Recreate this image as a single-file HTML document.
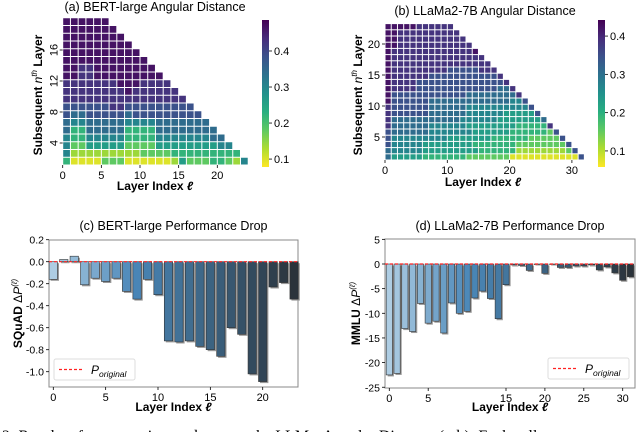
<!DOCTYPE html>
<html><head><meta charset="utf-8"><style>
html,body{margin:0;padding:0;background:#fff}
svg{display:block;font-family:"Liberation Sans",sans-serif}
</style></head><body>
<svg id="fig" width="640" height="432" viewBox="0 0 640 432" xmlns="http://www.w3.org/2000/svg">
<defs>
<linearGradient id="vir" x1="0" y1="1" x2="0" y2="0">
<stop offset="0" stop-color="#fde725"/><stop offset="0.125" stop-color="#addc30"/><stop offset="0.25" stop-color="#5ec962"/><stop offset="0.375" stop-color="#28ae80"/><stop offset="0.5" stop-color="#21918c"/><stop offset="0.625" stop-color="#2c728e"/><stop offset="0.75" stop-color="#3b528b"/><stop offset="0.875" stop-color="#472d7b"/><stop offset="1" stop-color="#440154"/>
</linearGradient>
</defs>
<g id="ga"></g>
<g id="gb"></g>
<g id="gc"></g>
<g id="gd"></g>
<text x="2" y="441" font-family="Liberation Serif" font-size="16">2:  Results of our experiments between the LLMs. Angular Distance (a-b): Each cell</text>
</svg>
<script>
// ---- data ----
// heatmap rows (bottom row first), each digit = level 0..9 across the colour range
const bertRows = ["300002220000001422233215","51111111112222333333333","5224444422224444444455","533555553333555555566","63366666333366666666","6556666655556666666","766777776777777777","77777788777777777","8888888888888888","888888889888888","88888889998888","9988999999999","998899999999","99999999999","9999999999","999999999","99999999","9999999","999999"];
const llamaRows = ["64444433333332222222000000000007","6555554444444443333331111111127","755555444444443333333222222227","75555555554444444333333222227","7666666555555544444433333327","866666655555544444444333338","86666666666655555544444446","8777777666666555555444447","877777766666655555555557","97777776666666666666557","9777777777777666666668","988887777777777777668","98888777777777777778","9888888777777777778","988888888877777888","98888888888888888","9888888888888888","988888888888889","99888888888888","9988888888888","998888888888","99999888888"];
const bertRange = [0.078, 0.486];
const llamaRange = [0.058, 0.442];
const bertTicksX = [0,5,10,15,20];
const bertTicksY = [4,8,12,16];
const bertCbTicks = [0.1,0.2,0.3,0.4];
const llamaTicksX = [0,10,20,30];
const llamaTicksY = [5,10,15,20];
const llamaCbTicks = [0.1,0.2,0.3,0.4];
const bertDrop = [-0.16,0.02,0.05,-0.21,-0.15,-0.18,-0.15,-0.27,-0.34,-0.16,-0.30,-0.72,-0.73,-0.72,-0.77,-0.80,-0.86,-0.60,-0.66,-1.02,-1.09,-0.23,-0.19,-0.34];
const bertDropTicksY = [0.2,0.0,-0.2,-0.4,-0.6,-0.8,-1.0];
const bertDropLabelsY = ["0.2","0.0","-0.2","-0.4","-0.6","-0.8","-1.0"];
const bertDropTicksX = [0,5,10,15,20];
const llamaDrop = [-22.5,-22.2,-13.1,-13.7,-8.0,-12.0,-11.6,-14.0,-7.9,-10.0,-9.6,-6.9,-5.5,-7.0,-11.1,-4.2,-0.2,-0.3,-1.3,0,-1.9,0,-0.7,-0.7,-0.4,-0.4,-0.2,-1.2,-0.6,-1.8,-3.3,-2.6];
const llamaDropTicksY = [5,0,-5,-10,-15,-20,-25];
const llamaDropTicksX = [0,5,15,20,25,30];

const NS="http://www.w3.org/2000/svg";
function mk(p,tag,at,txt){const e=document.createElementNS(NS,tag);for(const k in at)e.setAttribute(k,at[k]);if(txt!==undefined)e.textContent=txt;p.appendChild(e);return e;}
const VS=["#fde725","#addc30","#5ec962","#28ae80","#21918c","#2c728e","#3b528b","#472d7b","#440154"];
function hx(c){return [1,3,5].map(i=>parseInt(c.substr(i,2),16));}
function lerpCol(stops,t){t=Math.max(0,Math.min(1,t));const n=stops.length-1;const i=Math.min(n-1,Math.floor(t*n));const f=t*n-i;const a=hx(stops[i]),b=hx(stops[i+1]);return "rgb("+a.map((v,j)=>Math.round(v+(b[j]-v)*f)).join(",")+")";}

function heatmap(g,rows,rng,o){
  const xs=v=>o.x0+o.dx*v, ys=v=>o.y0-o.dy*v;
  rows.forEach((r,k)=>{
    for(let i=0;i<r.length;i++){
      const lvl=+r[i]; const val=rng[0]+(rng[1]-rng[0])*(0.05+0.9*lvl/9);
      const c=mk(g,"rect",{x:xs(i)+0.5,y:o.bot-o.dy*(k+1)+0.5,width:o.dx-1,height:o.dy-1,fill:lerpCol(VS,(val-rng[0])/(rng[1]-rng[0]))});
      
      
    }
  });
  o.tx.forEach(v=>{mk(g,"line",{x1:xs(v),x2:xs(v),y1:o.bot,y2:o.bot+3,stroke:"#000","stroke-width":0.8});
    const t=mk(g,"text",{x:xs(v),y:o.bot+14,"font-size":11,"text-anchor":"middle"},v);});
  o.ty.forEach(v=>{const y=o.tyf(v);mk(g,"line",{x1:o.x0-3,x2:o.x0,y1:y,y2:y,stroke:"#000","stroke-width":0.8});
    let t;
    if(o.rotY) t=mk(g,"text",{x:o.x0-5,y:y,"font-size":11,"text-anchor":"middle",transform:`rotate(-90 ${o.x0-5} ${y})`},v);
    else t=mk(g,"text",{x:o.x0-5,y:y+4,"font-size":11,"text-anchor":"end"},v);
    });
  // colorbar
  const cb=mk(g,"rect",{x:o.cbx,y:20,width:7,height:147,fill:"url(#vir)"});
  
  o.cbt.forEach(v=>{const y=167-147*(v-rng[0])/(rng[1]-rng[0]);
    mk(g,"line",{x1:o.cbx+7,x2:o.cbx+10,y1:y,y2:y,stroke:"#000","stroke-width":0.8});
    const t=mk(g,"text",{x:o.cbx+12,y:y+4,"font-size":11},v.toFixed(1));});
  const ti=mk(g,"text",{x:o.tx0,y:o.ty0,"font-size":12.5,"text-anchor":"middle"},o.title);
  const xl=mk(g,"text",{x:o.xlx,y:o.xly,"font-size":12,"font-weight":"bold","text-anchor":"middle"});
  xl.innerHTML='Layer Index <tspan font-style="italic">ℓ</tspan>';
  const yl=mk(g,"text",{x:o.ylx,y:95,"font-size":12,"font-weight":"bold","text-anchor":"middle",transform:`rotate(-90 ${o.ylx} 95)`});
  yl.innerHTML='Subsequent <tspan font-weight="normal" font-style="italic">n</tspan><tspan font-weight="normal" font-style="italic" font-size="8" dy="-5">th</tspan><tspan dy="5"> Layer</tspan>';
  
}
heatmap(document.getElementById("ga"),bertRows,bertRange,{x0:62.7,dx:7.73,y0:174,dy:7.75,bot:165,tx:bertTicksX,ty:bertTicksY,tyf:v=>174-7.75*v,rotY:true,cbx:262,cbt:bertCbTicks,title:"(a) BERT-large Angular Distance",tx0:155,ty0:11,xlx:155,xly:190,ylx:42});
heatmap(document.getElementById("gb"),llamaRows,llamaRange,{x0:385,dx:6.23,y0:168,dy:6.2,bot:160,tx:llamaTicksX,ty:llamaTicksY,tyf:v=>168-6.2*v,rotY:false,cbx:598,cbt:llamaCbTicks,title:"(b) LLaMa2-7B Angular Distance",tx0:485,ty0:15,xlx:483,xly:186,ylx:362});

const BS=["#aecde3","#4a87b8","#3b617f","#2b333b"];
function bars(g,vals,o){
  const xs=v=>o.xa+o.xk*v, ys=v=>o.ya-o.yk*v;
  mk(g,"rect",{x:o.L,y:o.T,width:o.R-o.L,height:o.B-o.T,fill:"none",stroke:"#888","stroke-width":1});
  const bw=o.xk*0.8;
  vals.forEach((v,i)=>{
    const y0=ys(0),y1=ys(v),top=Math.min(y0,y1),h=Math.max(Math.abs(y1-y0),0.5);
    const s=mk(g,"rect",{x:xs(i)-bw/2+1.5,y:top+1.5,width:bw,height:h,fill:"#999"});
    
    const b=mk(g,"rect",{x:xs(i)-bw/2,y:top,width:bw,height:h,fill:lerpCol(BS,i/(vals.length-1)),stroke:"#333","stroke-width":0.6});
    
  });
  const rl=mk(g,"line",{x1:o.L,x2:o.R,y1:ys(0),y2:ys(0),stroke:"#f22","stroke-width":1.2,"stroke-dasharray":"3,2"});
  
  o.ty.forEach((v,i)=>{const y=ys(v);mk(g,"line",{x1:o.L-3,x2:o.L,y1:y,y2:y,stroke:"#000","stroke-width":0.8});
    const t=mk(g,"text",{x:o.L-5,y:y+4,"font-size":10.5,"text-anchor":"end"},o.tyl?o.tyl[i]:v);});
  o.tx.forEach(v=>{const x=xs(v);mk(g,"line",{x1:x,x2:x,y1:o.B,y2:o.B+3,stroke:"#000","stroke-width":0.8});
    const t=mk(g,"text",{x:x,y:o.B+14,"font-size":11,"text-anchor":"middle"},v);});
  const ti=mk(g,"text",{x:(o.L+o.R)/2,y:230,"font-size":12.5,"text-anchor":"middle"},o.title);
  const xl=mk(g,"text",{x:(o.L+o.R)/2,y:411,"font-size":12,"font-weight":"bold","text-anchor":"middle"});
  xl.innerHTML='Layer Index <tspan font-style="italic">ℓ</tspan>';
  const yc=(o.T+o.B)/2;
  const yl=mk(g,"text",{x:o.ylx,y:yc,"font-size":12,"font-weight":"bold","text-anchor":"middle",transform:`rotate(-90 ${o.ylx} ${yc})`});
  yl.innerHTML=o.ylab+' <tspan font-weight="normal">Δ</tspan><tspan font-weight="normal" font-style="italic">P</tspan><tspan font-weight="normal" font-style="italic" font-size="8" dy="-5">(ℓ)</tspan>';
  
  const lg=mk(g,"g",{});
  mk(lg,"rect",{x:o.lgx,y:o.lgy,width:81,height:21,fill:"#fff",stroke:"#ddd",rx:2});
  mk(lg,"line",{x1:o.lgx+5,x2:o.lgx+28,y1:o.lgy+10.5,y2:o.lgy+10.5,stroke:"#f22","stroke-width":1.2,"stroke-dasharray":"3,2"});
  const lt=mk(lg,"text",{x:o.lgx+37,y:o.lgy+15,"font-size":12,"font-style":"italic"});
  lt.innerHTML='P<tspan font-size="8.5" dy="3">original</tspan>';
  
}
bars(document.getElementById("gc"),bertDrop,{L:49,R:298,T:240,B:387,xa:53.3,xk:10.47,ya:261.7,yk:110,ty:bertDropTicksY,tyl:bertDropLabelsY,tx:bertDropTicksX,title:"(c) BERT-large Performance Drop",ylab:"SQuAD",ylx:22,lgx:54,lgy:359});
bars(document.getElementById("gd"),llamaDrop,{L:385,R:635,T:239,B:388,xa:389.3,xk:7.78,ya:264,yk:4.93,ty:llamaDropTicksY,tx:llamaDropTicksX,title:"(d) LLaMa2-7B Performance Drop",ylab:"MMLU",ylx:360,lgx:548,lgy:358});
</script>
</body></html>
